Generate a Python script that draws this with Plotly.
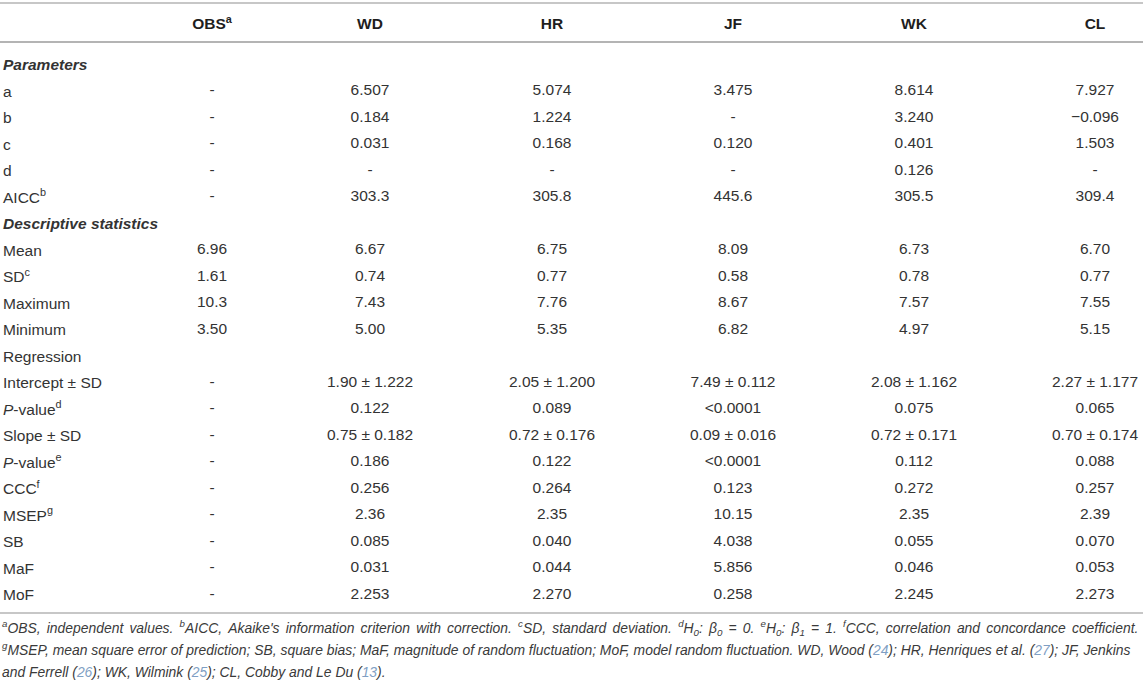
import plotly.graph_objs as go

# table content, one list per column
row_labels = [
    "<b><i>Parameters</i></b>", "a", "b", "c", "d", "AICC<sup>b</sup>",
    "<b><i>Descriptive statistics</i></b>", "Mean", "SD<sup>c</sup>", "Maximum", "Minimum",
    "Regression", "Intercept ± SD", "<i>P</i>-value<sup>d</sup>", "Slope ± SD",
    "<i>P</i>-value<sup>e</sup>", "CCC<sup>f</sup>", "MSEP<sup>g</sup>", "SB", "MaF", "MoF",
]
col_names = ["OBS<sup>a</sup>", "WD", "HR", "JF", "WK", "CL"]

obs = ["", "-", "-", "-", "-", "-", "", "6.96", "1.61", "10.3", "3.50",
       "", "-", "-", "-", "-", "-", "-", "-", "-", "-"]
wd = ["", "6.507", "0.184", "0.031", "-", "303.3", "", "6.67", "0.74", "7.43", "5.00",
      "", "1.90 ± 1.222", "0.122", "0.75 ± 0.182", "0.186", "0.256", "2.36", "0.085", "0.031", "2.253"]
hr = ["", "5.074", "1.224", "0.168", "-", "305.8", "", "6.75", "0.77", "7.76", "5.35",
      "", "2.05 ± 1.200", "0.089", "0.72 ± 0.176", "0.122", "0.264", "2.35", "0.040", "0.044", "2.270"]
jf = ["", "3.475", "-", "0.120", "-", "445.6", "", "8.09", "0.58", "8.67", "6.82",
      "", "7.49 ± 0.112", "<0.0001", "0.09 ± 0.016", "<0.0001", "0.123", "10.15", "4.038", "5.856", "0.258"]
wk = ["", "8.614", "3.240", "0.401", "0.126", "305.5", "", "6.73", "0.78", "7.57", "4.97",
      "", "2.08 ± 1.162", "0.075", "0.72 ± 0.171", "0.112", "0.272", "2.35", "0.055", "0.046", "2.245"]
cl = ["", "7.927", "−0.096", "1.503", "-", "309.4", "", "6.70", "0.77", "7.55", "5.15",
      "", "2.27 ± 1.177", "0.065", "0.70 ± 0.174", "0.088", "0.257", "2.39", "0.070", "0.053", "2.273"]

# horizontal centre of each value column (pixels, x axis runs 0..1143)
col_x = [212, 370, 552, 733, 914, 1095]

REF = "#7f9fc4"
footnotes = [
    "<sup>a</sup>OBS, independent values. <sup>b</sup>AICC, Akaike's information criterion with correction. "
    "<sup>c</sup>SD, standard deviation. <sup>d</sup>H<sub>0</sub>: β<sub>0</sub> = 0. "
    "<sup>e</sup>H<sub>0</sub>: β<sub>1</sub> = 1. <sup>f</sup>CCC, correlation and concordance coefficient.",
    "<sup>g</sup>MSEP, mean square error of prediction; SB, square bias; MaF, magnitude of random fluctuation; "
    f"MoF, model random fluctuation. WD, Wood (<span style='color:{REF}'>24</span>); "
    f"HR, Henriques et al. (<span style='color:{REF}'>27</span>); JF, Jenkins",
    f"and Ferrell (<span style='color:{REF}'>26</span>); WK, Wilmink (<span style='color:{REF}'>25</span>); "
    f"CL, Cobby and Le Du (<span style='color:{REF}'>13</span>).",
]
# first line is justified in the original: widen its word gaps a little
footnotes[0] = footnotes[0].replace(" <s", "\u2006 <s").replace(" ", " \u2006").replace("\u2006 \u2006<s", "\u2006 <s")
footnote_y = [-0.026, -0.0635, -0.104]

FONT = "Liberation Sans"
TXT = "#333333"
RULE = "#b4b4b4"
FS = 15.5

rows = list(range(len(row_labels)))
fig = go.Figure()
for x, col in zip(col_x, [obs, wd, hr, jf, wk, cl]):
    fig.add_trace(go.Scatter(
        x=[x] * len(col), y=rows, text=col, mode="text",
        textfont=dict(family=FONT, size=FS, color=TXT),
        hoverinfo="skip", showlegend=False, cliponaxis=False,
    ))

fig.update_layout(
    width=1143, height=685,
    margin=dict(l=0, r=0, t=43, b=72),
    paper_bgcolor="white", plot_bgcolor="white",
    font=dict(family=FONT, size=FS, color=TXT),
    xaxis=dict(
        side="top", range=[0, 1143], tickvals=col_x,
        ticktext=[f"<b>{c}</b>" for c in col_names],
        showgrid=False, zeroline=False, ticks="", ticklabelstandoff=6,
        showline=True, linecolor=RULE, linewidth=1.5,
        tickfont=dict(family=FONT, size=FS, color="#1e1e1e"),
    ),
    yaxis=dict(
        range=[20.68, -0.83], tickvals=rows, ticktext=row_labels,
        ticklabelposition="inside", showgrid=False, zeroline=False, ticks="",
        tickfont=dict(family=FONT, size=FS, color=TXT),
    ),
    shapes=[
        dict(type="line", xref="paper", yref="paper", x0=0, x1=1, y0=1.0702, y1=1.0702,
             line=dict(color=RULE, width=1.5)),
        dict(type="line", xref="paper", yref="paper", x0=0, x1=1, y0=0, y1=0,
             line=dict(color=RULE, width=1.5)),
    ],
)

for line, y in zip(footnotes, footnote_y):
    fig.add_annotation(
        text=f"<i>{line}</i>", xref="paper", yref="paper", x=0, y=y,
        xanchor="left", yanchor="middle", showarrow=False, align="left",
        font=dict(family=FONT, size=13.9, color="#3a3a3a"),
    )

fig.write_html("out.html", config={"displayModeBar": False},
               post_script="document.body.style.margin='0';")
